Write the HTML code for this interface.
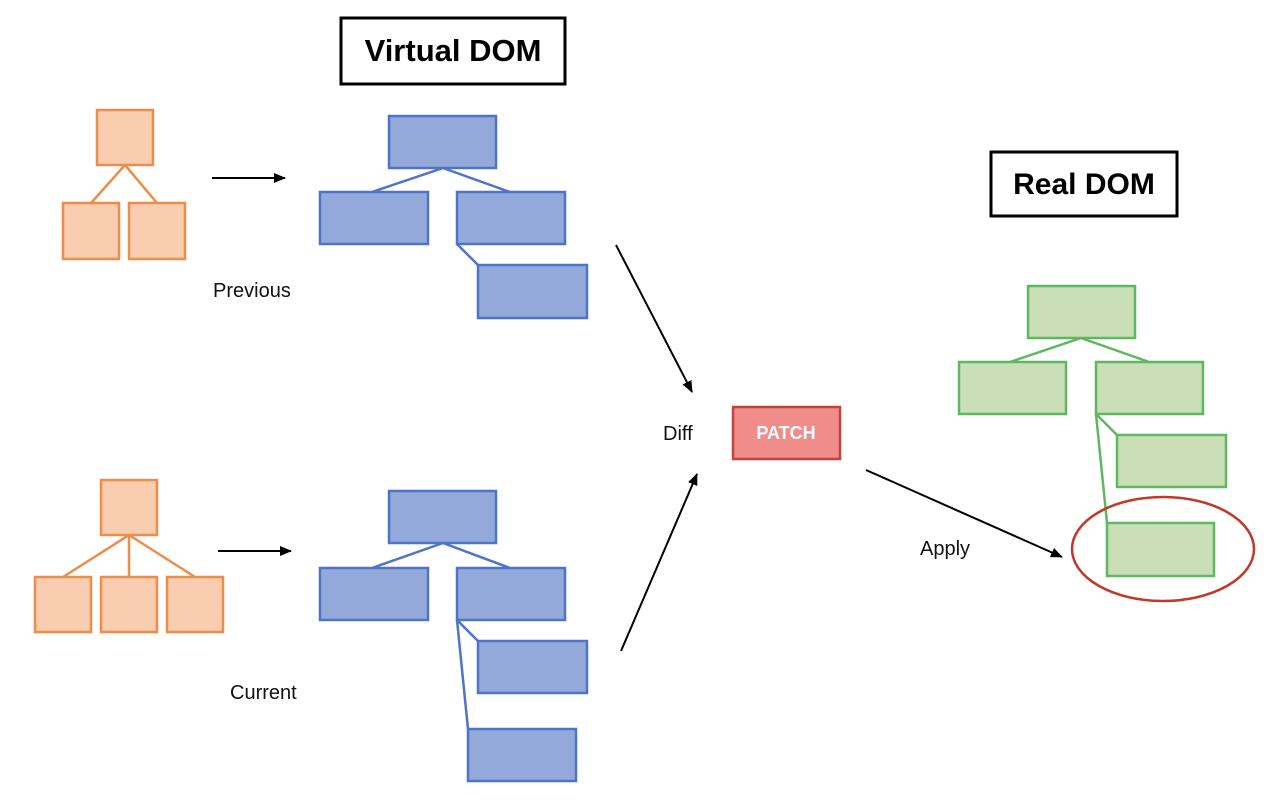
<!DOCTYPE html>
<html><head><meta charset="utf-8"><style>html,body{margin:0;padding:0;background:#fff}svg{display:block}</style></head>
<body>
<svg width="1280" height="806" viewBox="0 0 1280 806" xmlns="http://www.w3.org/2000/svg" font-family="Liberation Sans, sans-serif">
<defs><marker id="a" markerWidth="12" markerHeight="10" refX="11" refY="5" orient="auto" markerUnits="userSpaceOnUse"><path d="M0,0 L12,5 L0,10 Z" fill="#000"/></marker></defs>
<rect x="341" y="18" width="224" height="66" fill="#fff" stroke="#000" stroke-width="3"/>
<text x="453" y="61" text-anchor="middle" font-size="31" font-weight="bold">Virtual DOM</text>
<rect x="991" y="152" width="186" height="64" fill="#fff" stroke="#000" stroke-width="3"/>
<text x="1084" y="194" text-anchor="middle" font-size="30" font-weight="bold">Real DOM</text>
<g fill="#f8cdb0" stroke="#ec8d4c" stroke-width="2.5">
<line x1="125" y1="165" x2="91" y2="203"/><line x1="125" y1="165" x2="157" y2="203"/>
<rect x="97" y="110" width="56" height="55"/><rect x="63" y="203" width="56" height="56"/><rect x="129" y="203" width="56" height="56"/>
<line x1="129" y1="535" x2="63" y2="577"/><line x1="129" y1="535" x2="129" y2="577"/><line x1="129" y1="535" x2="195" y2="577"/>
<rect x="101" y="480" width="56" height="55"/><rect x="35" y="577" width="56" height="55"/><rect x="101" y="577" width="56" height="55"/><rect x="167" y="577" width="56" height="55"/>
</g>
<g fill="#94a9d9" stroke="#4d74c8" stroke-width="2.5">
<line x1="443" y1="168" x2="372" y2="192"/><line x1="443" y1="168" x2="510" y2="192"/><line x1="457" y1="244" x2="478" y2="265"/>
<rect x="389" y="116" width="107" height="52"/><rect x="320" y="192" width="108" height="52"/><rect x="457" y="192" width="108" height="52"/><rect x="478" y="265" width="109" height="53"/>
<line x1="443" y1="543" x2="372" y2="568"/><line x1="443" y1="543" x2="510" y2="568"/><line x1="457" y1="620" x2="478" y2="641"/><line x1="457" y1="620" x2="468" y2="729"/>
<rect x="389" y="491" width="107" height="52"/><rect x="320" y="568" width="108" height="52"/><rect x="457" y="568" width="108" height="52"/><rect x="478" y="641" width="109" height="52"/><rect x="468" y="729" width="108" height="52"/>
</g>
<g fill="#cadfb8" stroke="#5db860" stroke-width="2.5">
<line x1="1081" y1="338" x2="1010" y2="362"/><line x1="1081" y1="338" x2="1149" y2="362"/><line x1="1096" y1="414" x2="1117" y2="435"/><line x1="1096" y1="414" x2="1107" y2="523"/>
<rect x="1028" y="286" width="107" height="52"/><rect x="959" y="362" width="107" height="52"/><rect x="1096" y="362" width="107" height="52"/><rect x="1117" y="435" width="109" height="52"/><rect x="1107" y="523" width="107" height="53"/>
</g>
<ellipse cx="1163" cy="549" rx="91" ry="52" fill="none" stroke="#c0392b" stroke-width="2.5"/>
<g stroke="#000" stroke-width="2" marker-end="url(#a)">
<line x1="212" y1="178" x2="285" y2="178"/><line x1="218" y1="551" x2="291" y2="551"/>
<line x1="616" y1="245" x2="692" y2="392"/><line x1="621" y1="651" x2="697" y2="474"/>
<line x1="866" y1="470" x2="1062" y2="557"/>
</g>
<rect x="733" y="407" width="107" height="52" fill="#f08c8a" stroke="#c0443f" stroke-width="2.5"/>
<text x="786" y="439" text-anchor="middle" font-size="18" font-weight="bold" fill="#fff">PATCH</text>
<g font-size="20" fill="#111">
<text x="663" y="440">Diff</text>
<text x="213" y="297">Previous</text>
<text x="230" y="699">Current</text>
<text x="920" y="555">Apply</text>
</g>
</svg>
</body></html>
